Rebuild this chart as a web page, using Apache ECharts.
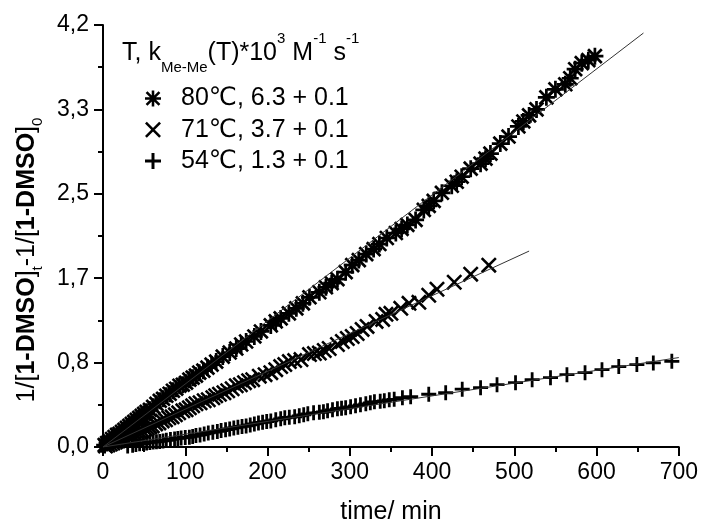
<!DOCTYPE html>
<html>
<head>
<meta charset="utf-8">
<script src="https://cdn.jsdelivr.net/npm/echarts@6/dist/echarts.min.js"></script>
<style>html,body{margin:0;padding:0;background:#fff;}#c{width:701px;height:530px;}</style>
</head>
<body>
<div id="c"></div>
<script>
// ---- data ----
const seriesNames = ['80\u2103, 6.3 + 0.1', '71\u2103, 3.7 + 0.1', '54\u2103, 1.3 + 0.1'];
const xTickLabels = ['0','100','200','300','400','500','600','700'];
const yTickLabels = ['0,0','0,8','1,7','2,5','3,3','4,2'];

const data80 = [[2,0.02],[5,0.04],[8,0.06],[11,0.08],[14,0.10],[17,0.12],[20,0.13],[23,0.15],[26,0.17],[29,0.19],[32,0.21],[35,0.23],[38,0.25],[41,0.27],[44,0.29],[47,0.31],[50,0.33],[53,0.35],[57,0.37],[61,0.40],[65,0.43],[69,0.46],[73,0.48],[77,0.51],[81,0.53],[85,0.56],[89,0.58],[93,0.61],[97,0.62],[101,0.64],[105,0.67],[109,0.69],[113,0.71],[117,0.74],[122,0.76],[127,0.79],[132,0.82],[137.6,0.85],[145.6,0.90],[154,0.94],[162,0.98],[168,1.02],[174,1.05],[184,1.10],[192,1.15],[204,1.21],[210,1.25],[216,1.28],[226,1.33],[235,1.38],[243,1.43],[251,1.49],[263,1.54],[271,1.59],[278,1.63],[285,1.67],[295,1.74],[303,1.81],[311,1.86],[320,1.92],[329,1.97],[336,2.02],[345,2.08],[356,2.13],[363,2.17],[370,2.21],[380,2.26],[390,2.36],[396,2.40],[402,2.45],[412,2.53],[424,2.60],[430,2.64],[436,2.69],[447,2.77],[459,2.82],[465,2.87],[471,2.92],[483,3.02],[493,3.09],[505,3.19],[511,3.24],[518,3.30],[527,3.36],[539,3.48],[550,3.56],[562,3.61],[568,3.67],[574,3.76],[582,3.82],[590,3.85],[598,3.89]];
const data71 = [[3,0.01],[6,0.02],[9,0.03],[12,0.04],[15,0.05],[18,0.06],[21,0.07],[24,0.08],[27,0.09],[30,0.10],[33,0.11],[36,0.12],[39,0.13],[42,0.14],[45,0.15],[48,0.16],[51,0.18],[54,0.19],[57,0.20],[60,0.21],[64,0.23],[68,0.24],[72,0.26],[76,0.27],[80,0.29],[84,0.30],[88,0.32],[92,0.34],[97,0.36],[101,0.37],[105,0.39],[109,0.41],[113,0.43],[118,0.44],[123,0.46],[128,0.47],[133.5,0.49],[137,0.51],[141.6,0.525],[147,0.54],[151.6,0.56],[157,0.58],[162,0.61],[167,0.62],[172,0.64],[177,0.66],[182,0.67],[190,0.705],[197,0.72],[204,0.74],[210,0.77],[216,0.80],[221,0.82],[226.5,0.85],[233,0.86],[240.7,0.87],[251,0.92],[257,0.93],[263,0.935],[269,0.96],[275,0.98],[285,1.02],[291,1.05],[297,1.08],[303,1.10],[309,1.13],[315,1.17],[321,1.20],[332,1.25],[340,1.27],[344,1.32],[350,1.33],[362,1.38],[372,1.43],[384,1.44],[396,1.51],[406,1.57],[427,1.64],[447,1.72],[469,1.81]];
const data54 = [[30,0.01],[36,0.017],[40,0.025],[44.5,0.033],[49,0.035],[53,0.04],[57,0.045],[61,0.05],[65,0.052],[69,0.055],[73,0.06],[77,0.066],[82,0.075],[87,0.08],[91,0.085],[95,0.09],[100,0.095],[105,0.098],[109,0.105],[113,0.115],[118,0.12],[123,0.13],[128,0.14],[133.5,0.148],[139,0.155],[143.6,0.164],[149,0.172],[154,0.18],[159,0.19],[164,0.197],[169,0.205],[174,0.21],[179,0.22],[184,0.23],[189,0.24],[194,0.246],[199,0.253],[204,0.26],[210,0.27],[216,0.28],[221,0.29],[226.5,0.295],[233,0.30],[238.6,0.31],[244,0.32],[249,0.33],[256,0.34],[263,0.345],[268,0.35],[273,0.36],[279,0.37],[285,0.38],[290,0.385],[295,0.39],[301,0.40],[307,0.41],[313,0.42],[319.5,0.43],[325,0.44],[330,0.45],[337,0.455],[342,0.46],[348,0.47],[354,0.475],[364,0.49],[374,0.50],[396,0.525],[416.6,0.54],[436.7,0.575],[459,0.59],[479,0.62],[501.5,0.64],[521.7,0.67],[544,0.69],[564,0.72],[586,0.74],[606.6,0.77],[627,0.80],[649,0.82],[669,0.837],[691.5,0.853]];

const fit80 = [[0,0],[657,4.12]];
const fit71 = [[0,0],[518,1.95]];
const fit54 = [[0,0],[700,0.89]];

// ---- symbols ----
const symPlus = 'path://M-1.3,-7L1.3,-7L1.3,-1.3L7,-1.3L7,1.3L1.3,1.3L1.3,7L-1.3,7L-1.3,1.3L-7,1.3L-7,-1.3L-1.3,-1.3Z';
const symCross = 'path://M-6.1,-7.9L7.9,6.1L6.1,7.9L-7.9,-6.1ZM6.1,-7.9L7.9,-6.1L-6.1,7.9L-7.9,6.1Z';
const symStar = 'path://M-1.2,-7.5L1.2,-7.5L1.2,7.5L-1.2,7.5ZM-7.5,-1.2L7.5,-1.2L7.5,1.2L-7.5,1.2ZM-5.2,-6.9L6.9,5.2L5.2,6.9L-6.9,-5.2ZM5.2,-6.9L6.9,-5.2L-5.2,6.9L-6.9,5.2Z';

const FONT = '"Liberation Sans", Arial, "DejaVu Sans", sans-serif';
const chart = echarts.init(document.getElementById('c'), null, {renderer: 'canvas'});

function scatter(name, data, sym, size) {
  return {name: name, type: 'scatter', data: data, symbol: sym, symbolSize: size,
    itemStyle: {color: '#000', opacity: 1}, z: 3, animation: false};
}
function fit(data) {
  return {type: 'line', data: data, showSymbol: false, symbol: 'none',
    lineStyle: {color: '#333', width: 1}, z: 4, silent: true, animation: false};
}

const option = {
  backgroundColor: '#fff',
  animation: false,
  textStyle: {fontFamily: FONT, color: '#000'},
  grid: {left: 103, right: 21, top: 25, bottom: 78, containLabel: false},
  title: {
    left: 122, top: 31, padding: 0,
    text: '{a|T, k}{b|Me-Me}{a|(T)*10}{c|3}{a| M}{c|-1}{a| s}{c|-1}',
    textStyle: {
      fontWeight: 'normal',
      rich: {
        a: {fontFamily: FONT, fontSize: 25, fontWeight: 'normal', color: '#000', lineHeight: 44, verticalAlign: 'middle'},
        b: {fontFamily: FONT, fontSize: 15, fontWeight: 'normal', color: '#000', lineHeight: 18, verticalAlign: 'bottom'},
        c: {fontFamily: FONT, fontSize: 15, fontWeight: 'normal', color: '#000', lineHeight: 18, verticalAlign: 'top'}
      }
    }
  },
  legend: {
    orient: 'vertical', left: 145, top: 86, padding: 0,
    itemWidth: 16, itemHeight: 16, itemGap: 6.3,
    itemStyle: {opacity: 1, color: '#000'},
    textStyle: {fontFamily: FONT, fontSize: 25, color: '#000', lineHeight: 24, padding: [0,0,0,15]},
    data: [
      {name: seriesNames[0], icon: symStar},
      {name: seriesNames[1], icon: symCross},
      {name: seriesNames[2], icon: symPlus}
    ]
  },
  xAxis: {
    type: 'value', min: 0, max: 700, interval: 100,
    name: 'time/ min', nameLocation: 'middle', nameGap: 53,
    nameTextStyle: {fontFamily: FONT, fontSize: 25, color: '#000'},
    axisLine: {show: true, lineStyle: {color: '#000', width: 2}},
    axisTick: {show: true, length: 9, lineStyle: {color: '#000', width: 2}},
    minorTick: {show: true, splitNumber: 2, length: 5, lineStyle: {color: '#000', width: 2}},
    splitLine: {show: false},
    axisLabel: {margin: 14, fontFamily: FONT, fontSize: 23, color: '#000',
      formatter: function (v) { return xTickLabels[Math.round(v / 100)]; }}
  },
  yAxis: {
    type: 'value', min: 0, max: 4.2, interval: 0.84,
    name: '{a|1/[}{b|1-DMSO}{a|]}{s|t}{a|-1/[}{b|1-DMSO}{a|]}{s|0}',
    nameLocation: 'middle', nameGap: 58, nameRotate: 90,
    nameTextStyle: {
      padding: [0, 48, 0, 0],
      rich: {
        a: {fontFamily: FONT, fontSize: 25, color: '#000', lineHeight: 36, verticalAlign: 'middle'},
        b: {fontFamily: FONT, fontSize: 25, fontWeight: 'bold', color: '#000', lineHeight: 36, verticalAlign: 'middle'},
        s: {fontFamily: FONT, fontSize: 15, color: '#000', lineHeight: 18, verticalAlign: 'bottom'}
      }
    },
    axisLine: {show: true, lineStyle: {color: '#000', width: 2}},
    axisTick: {show: true, length: 9, lineStyle: {color: '#000', width: 2}},
    minorTick: {show: true, splitNumber: 2, length: 5, lineStyle: {color: '#000', width: 2}},
    splitLine: {show: false},
    axisLabel: {margin: 14, fontFamily: FONT, fontSize: 23, color: '#000',
      formatter: function (v) { return yTickLabels[Math.round(v / 0.84)]; }}
  },
  series: [
    scatter(seriesNames[0], data80, symStar, 17),
    scatter(seriesNames[1], data71, symCross, 16),
    scatter(seriesNames[2], data54, symPlus, 15),
    fit(fit80), fit(fit71), fit(fit54)
  ]
};
chart.setOption(option);
</script>
</body>
</html>
